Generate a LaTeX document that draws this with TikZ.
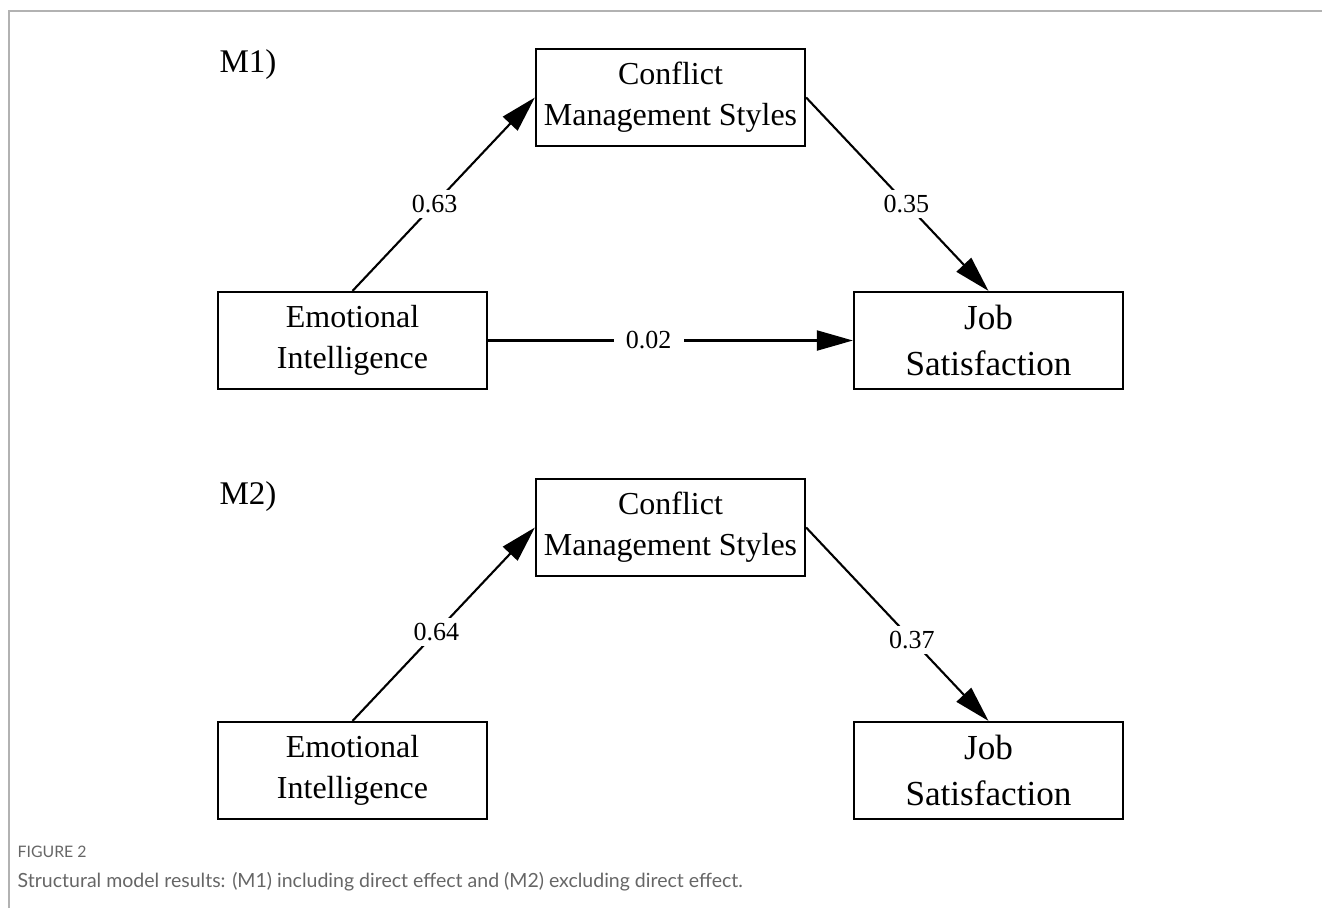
\documentclass[tikz,border=0pt]{standalone}
\usepackage{fontspec}
\setmainfont{Liberation Serif}
\newfontfamily\capfont{Lato}
\usetikzlibrary{arrows.meta,positioning}

\begin{document}
\begin{tikzpicture}[x=0.01cm, y=-0.01cm,
    var/.style={draw, line width=0.6pt, minimum width=2.69cm, minimum height=0.97cm,
      align=center, inner sep=0pt, font=\fontsize{9.1}{11.7}\selectfont},
    effect/.style={-{Triangle[length=3.6mm, width=2mm]}, line width=0.6pt},
    coef/.style={fill=white, inner xsep=2.5pt, inner ysep=1.5pt, font=\fontsize{7.4}{8}\selectfont}]
  \useasboundingbox (0,0) rectangle (1322,908);
  \draw[gray!60, line width=0.6pt] (9,908) -- (9,11) -- (1322,11);

  % M1: with direct effect
  \node[font=\fontsize{9.4}{11}\selectfont] (m1) at (248,65) {M1)};
  \node[var] (cms1) at (670.5,97.5) {Conflict\\Management Styles};
  \node[var] (ei1) at (352.5,340.5) {Emotional\\Intelligence};
  \node[var, font=\fontsize{10}{13}\selectfont] (js1) at (988.5,340.5) {Job\\Satisfaction};
  \draw[effect] (ei1.north) -- node[coef, pos=0.45] (a1) {0.63} (cms1.west);
  \draw[effect] (cms1.east) -- node[coef, pos=0.55] (b1) {0.35} (js1.north);
  \draw[effect] (ei1.east) -- node[coef, pos=0.44, inner xsep=3.5pt] (c1) {0.02} (js1.west);

  % M2: without direct effect
  \node[font=\fontsize{9.4}{11}\selectfont] (m2) at (248,497) {M2)};
  \node[var] (cms2) at (670.5,527.5) {Conflict\\Management Styles};
  \node[var] (ei2) at (352.5,770.5) {Emotional\\Intelligence};
  \node[var, font=\fontsize{10}{13}\selectfont] (js2) at (988.5,770.5) {Job\\Satisfaction};
  \draw[effect] (ei2.north) -- node[coef, pos=0.46] (a2) {0.64} (cms2.west);
  \draw[effect] (cms2.east) -- node[coef, pos=0.58] (b2) {0.37} (js2.north);

  % caption
  \node[anchor=base west, inner sep=0pt, text=black!60, font=\capfont\fontsize{4.5}{5}\selectfont] (fig) at (17,857) {FIGURE 2};
  \node[anchor=base west, inner sep=0pt, text=black!60, font=\capfont\fontsize{5.55}{6.5}\selectfont] (cap) at (17,887)
    {Structural model results: (M1) including direct effect and (M2) excluding direct effect.};
\end{tikzpicture}
\end{document}
